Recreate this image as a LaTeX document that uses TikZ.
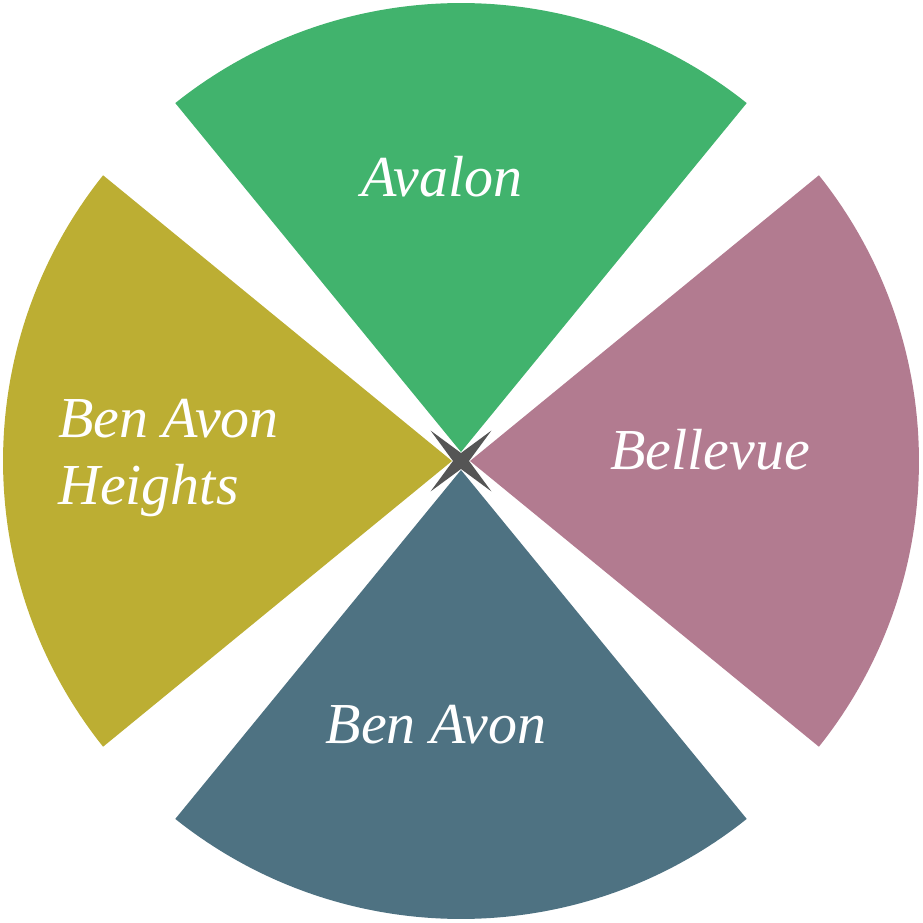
\documentclass[tikz,border=0pt]{standalone}
\usepackage{fontspec}
\setmainfont{Liberation Serif}
\definecolor{avalongreen}{RGB}{65,179,109}
\definecolor{bellevuepink}{RGB}{178,123,144}
\definecolor{benavonblue}{RGB}{78,114,130}
\definecolor{heightsolive}{RGB}{188,174,51}
\definecolor{hubgray}{RGB}{85,85,85}
\tikzset{
  label/.style={text=white, font=\itshape\fontsize{58}{67}\selectfont, inner sep=0pt}
}
\begin{document}
\begin{tikzpicture}[x=1pt,y=1pt]
    % Frame of the picture
    \useasboundingbox (-461,-462) rectangle (461,461);

    % Four sectors, each with its tip a little off the centre
    \fill[avalongreen] (0,9) -- (128.6:458) arc[start angle=128.6, end angle=51.4, radius=458] -- cycle;
    \fill[bellevuepink] (9,0) -- (38.6:458) arc[start angle=38.6, end angle=-38.6, radius=458] -- cycle;
    \fill[benavonblue] (0,-9) -- (-51.4:458) arc[start angle=-51.4, end angle=-128.6, radius=458] -- cycle;
    \fill[heightsolive] (-9,0) -- (-141.4:458) arc[start angle=-141.4, end angle=-218.6, radius=458] -- cycle;

    % Star in the middle
    \fill[hubgray] (45:43) -- (90:8) -- (135:43) -- (180:8) -- (225:43) -- (270:8) -- (315:43) -- (0:8) -- cycle;

    % Sector names
    \node[label] (avalon) at (-19,284) {Avalon};
    \node[label] (bellevue) at (249,11) {Bellevue};
    \node[label] (benavon) at (-25,-264) {Ben Avon};
    \node[label, anchor=west, align=left] (heights) at (-403,3) {Ben Avon\\Heights};
\end{tikzpicture}
\end{document}
